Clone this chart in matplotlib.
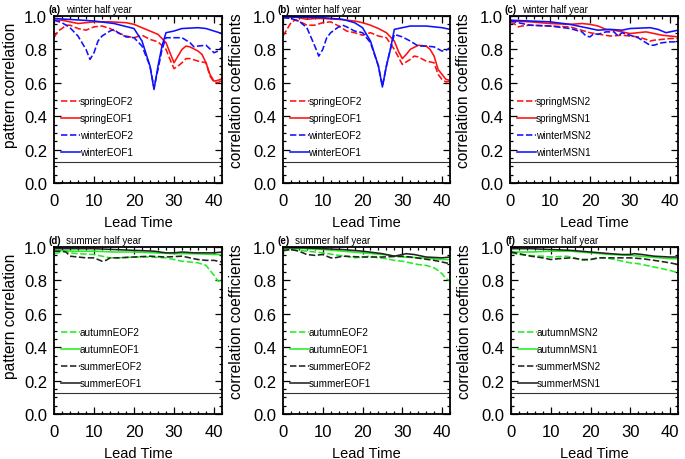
import matplotlib
matplotlib.use('Agg')
import matplotlib.pyplot as plt
from matplotlib.ticker import MultipleLocator, FormatStrFormatter

plt.rcParams['font.family'] = ['Liberation Sans', 'DejaVu Sans']

RED, BLUE, GREEN, BLACK = '#ff1010', '#1010ff', '#22ee22', '#222222'
SIG_LEVEL = 0.124

# ---------------- panel (a) ----------------
a_wEOF1_x = [0, 7, 10, 15, 20, 22, 24, 25, 26, 27, 28, 30, 32, 36, 38, 40, 42]
a_wEOF1_y = [0.985, 0.975, 0.97, 0.955, 0.925, 0.85, 0.70, 0.56, 0.70, 0.82, 0.90, 0.91, 0.925, 0.93, 0.925, 0.91, 0.895]
a_wEOF2_x = [0, 2, 4, 6, 8, 9, 10, 11, 12, 14, 15, 16, 18, 20, 22, 24, 25, 26, 27, 28, 30, 32, 34, 35, 36, 38, 40, 41, 42]
a_wEOF2_y = [0.975, 0.96, 0.93, 0.88, 0.80, 0.74, 0.78, 0.85, 0.88, 0.91, 0.92, 0.90, 0.875, 0.87, 0.82, 0.70, 0.57, 0.68, 0.80, 0.87, 0.87, 0.87, 0.84, 0.815, 0.82, 0.825, 0.78, 0.79, 0.815]
a_sEOF1_x = [0, 2, 4, 6, 8, 10, 14, 18, 20, 22, 24, 26, 28, 29, 30, 31, 32, 33, 34, 36, 37, 38, 39, 40, 41, 42]
a_sEOF1_y = [0.975, 0.975, 0.965, 0.955, 0.96, 0.965, 0.965, 0.96, 0.95, 0.93, 0.91, 0.89, 0.84, 0.78, 0.72, 0.76, 0.80, 0.82, 0.815, 0.79, 0.77, 0.72, 0.65, 0.61, 0.615, 0.625]
a_sEOF2_x = [0, 1, 2, 3, 4, 6, 8, 10, 12, 14, 16, 18, 20, 22, 24, 26, 28, 29, 30, 31, 32, 33, 34, 36, 38, 39, 40, 41, 42]
a_sEOF2_y = [0.87, 0.91, 0.925, 0.945, 0.945, 0.925, 0.915, 0.935, 0.94, 0.925, 0.90, 0.88, 0.87, 0.885, 0.86, 0.845, 0.80, 0.74, 0.685, 0.70, 0.72, 0.745, 0.745, 0.73, 0.72, 0.64, 0.605, 0.60, 0.615]

# ---------------- panel (b) ----------------
b_wEOF1_x = [0, 10, 15, 18, 20, 22, 24, 25, 26, 27, 28, 30, 32, 36, 40, 42]
b_wEOF1_y = [0.995, 0.99, 0.98, 0.96, 0.93, 0.85, 0.70, 0.575, 0.70, 0.80, 0.92, 0.93, 0.94, 0.94, 0.93, 0.92]
b_wEOF2_x = [0, 2, 4, 6, 8, 9, 10, 11, 12, 14, 15, 16, 18, 20, 22, 24, 25, 26, 27, 28, 30, 32, 34, 36, 38, 40, 41, 42]
b_wEOF2_y = [0.99, 0.985, 0.97, 0.93, 0.82, 0.76, 0.80, 0.87, 0.90, 0.935, 0.945, 0.935, 0.91, 0.90, 0.84, 0.70, 0.58, 0.70, 0.80, 0.89, 0.875, 0.85, 0.82, 0.82, 0.815, 0.79, 0.795, 0.81]
b_sEOF1_x = [0, 2, 4, 6, 8, 10, 14, 18, 20, 22, 24, 26, 28, 29, 30, 31, 32, 34, 36, 37, 38, 39, 40, 41, 42]
b_sEOF1_y = [0.99, 0.995, 0.99, 0.98, 0.985, 0.985, 0.98, 0.97, 0.96, 0.945, 0.925, 0.90, 0.85, 0.79, 0.745, 0.77, 0.80, 0.825, 0.82, 0.80, 0.76, 0.68, 0.65, 0.62, 0.615]
b_sEOF2_x = [0, 1, 2, 3, 4, 6, 8, 10, 12, 14, 16, 18, 20, 22, 24, 26, 28, 30, 32, 33, 34, 36, 38, 39, 40, 41, 42]
b_sEOF2_y = [0.88, 0.92, 0.96, 0.975, 0.97, 0.945, 0.945, 0.96, 0.965, 0.94, 0.91, 0.90, 0.885, 0.90, 0.88, 0.87, 0.80, 0.71, 0.74, 0.76, 0.755, 0.73, 0.72, 0.65, 0.62, 0.605, 0.61]

# ---------------- panel (c) ----------------
c_wMSN1_x = [0, 5, 10, 15, 20, 22, 25, 28, 30, 35, 37, 39, 40, 42]
c_wMSN1_y = [0.975, 0.97, 0.965, 0.95, 0.925, 0.915, 0.92, 0.915, 0.925, 0.93, 0.92, 0.90, 0.905, 0.915]
c_wMSN2_x = [0, 2, 5, 10, 15, 18, 19, 20, 21, 22, 24, 26, 27, 28, 30, 32, 34, 35, 36, 38, 40, 42]
c_wMSN2_y = [0.97, 0.96, 0.945, 0.94, 0.925, 0.905, 0.88, 0.875, 0.895, 0.89, 0.905, 0.905, 0.88, 0.90, 0.885, 0.87, 0.84, 0.825, 0.825, 0.84, 0.845, 0.845]
c_sMSN1_x = [0, 5, 10, 15, 18, 20, 22, 24, 26, 28, 30, 32, 34, 36, 38, 40, 42]
c_sMSN1_y = [0.97, 0.965, 0.955, 0.95, 0.955, 0.95, 0.94, 0.92, 0.915, 0.905, 0.895, 0.90, 0.905, 0.895, 0.885, 0.88, 0.875]
c_sMSN2_x = [0, 1, 2, 3, 5, 10, 15, 20, 25, 28, 30, 32, 34, 35, 36, 38, 40, 42]
c_sMSN2_y = [0.96, 0.955, 0.935, 0.94, 0.945, 0.94, 0.935, 0.90, 0.88, 0.885, 0.88, 0.875, 0.86, 0.85, 0.855, 0.86, 0.865, 0.865]

# ---------------- panel (d) ----------------
d_suEOF1_x = [0, 5, 10, 15, 20, 25, 28, 30, 32, 35, 40, 42]
d_suEOF1_y = [0.99, 0.99, 0.99, 0.985, 0.98, 0.975, 0.965, 0.965, 0.97, 0.965, 0.965, 0.97]
d_suEOF2_x = [0, 2, 3, 4, 6, 8, 10, 12, 13, 14, 16, 20, 24, 28, 32, 34, 36, 38, 40, 42]
d_suEOF2_y = [0.975, 0.975, 0.97, 0.945, 0.94, 0.935, 0.935, 0.915, 0.92, 0.935, 0.935, 0.94, 0.945, 0.94, 0.945, 0.935, 0.925, 0.92, 0.92, 0.91]
d_auEOF1_x = [0, 5, 10, 15, 20, 25, 30, 35, 40, 42]
d_auEOF1_y = [0.98, 0.975, 0.975, 0.97, 0.97, 0.965, 0.96, 0.96, 0.955, 0.955]
d_auEOF2_x = [0, 2, 3, 4, 6, 10, 14, 16, 20, 24, 28, 30, 32, 34, 36, 38, 39, 40, 41, 42]
d_auEOF2_y = [0.96, 0.97, 0.975, 0.965, 0.96, 0.955, 0.935, 0.935, 0.94, 0.94, 0.935, 0.925, 0.915, 0.91, 0.905, 0.89, 0.86, 0.83, 0.795, 0.80]

# ---------------- panel (e) ----------------
e_suEOF1_x = [0, 5, 10, 15, 20, 25, 28, 30, 31, 33, 36, 40, 42]
e_suEOF1_y = [0.995, 0.995, 0.99, 0.985, 0.975, 0.96, 0.945, 0.955, 0.96, 0.955, 0.94, 0.935, 0.94]
e_suEOF2_x = [0, 2, 4, 6, 8, 10, 12, 13, 15, 20, 25, 30, 32, 35, 38, 40, 42]
e_suEOF2_y = [0.98, 0.985, 0.975, 0.955, 0.95, 0.955, 0.935, 0.935, 0.945, 0.94, 0.94, 0.945, 0.94, 0.93, 0.92, 0.91, 0.90]
e_auEOF1_x = [0, 5, 10, 15, 20, 25, 30, 35, 40, 42]
e_auEOF1_y = [0.995, 0.99, 0.985, 0.975, 0.965, 0.955, 0.94, 0.935, 0.925, 0.925]
e_auEOF2_x = [0, 2, 4, 6, 10, 14, 16, 18, 20, 22, 24, 26, 28, 30, 32, 34, 36, 38, 39, 40, 41, 42]
e_auEOF2_y = [0.975, 0.985, 0.98, 0.975, 0.965, 0.95, 0.945, 0.935, 0.94, 0.945, 0.935, 0.93, 0.92, 0.915, 0.905, 0.895, 0.89, 0.875, 0.86, 0.84, 0.81, 0.80]

# ---------------- panel (f) ----------------
f_suMSN1_x = [0, 5, 10, 15, 20, 25, 28, 30, 31, 33, 36, 40, 42]
f_suMSN1_y = [0.99, 0.99, 0.985, 0.98, 0.97, 0.96, 0.955, 0.955, 0.96, 0.955, 0.945, 0.94, 0.94]
f_suMSN2_x = [0, 3, 5, 8, 10, 12, 15, 18, 20, 22, 25, 30, 33, 36, 40, 42]
f_suMSN2_y = [0.97, 0.955, 0.945, 0.935, 0.925, 0.93, 0.935, 0.925, 0.925, 0.935, 0.935, 0.935, 0.93, 0.92, 0.905, 0.895]
f_auMSN1_x = [0, 5, 10, 15, 20, 25, 30, 35, 40, 42]
f_auMSN1_y = [0.97, 0.97, 0.975, 0.975, 0.965, 0.955, 0.95, 0.94, 0.93, 0.93]
f_auMSN2_x = [0, 2, 4, 8, 10, 14, 16, 18, 20, 22, 24, 26, 28, 30, 32, 34, 36, 38, 40, 42]
f_auMSN2_y = [0.965, 0.955, 0.95, 0.945, 0.94, 0.945, 0.935, 0.92, 0.925, 0.935, 0.935, 0.925, 0.915, 0.905, 0.90, 0.89, 0.88, 0.87, 0.86, 0.845]

panels = [
    ('(a)', 'winter half year', 'pattern correlation', [
        ('springEOF2', RED, '--', a_sEOF2_x, a_sEOF2_y),
        ('springEOF1', RED, '-', a_sEOF1_x, a_sEOF1_y),
        ('winterEOF2', BLUE, '--', a_wEOF2_x, a_wEOF2_y),
        ('winterEOF1', BLUE, '-', a_wEOF1_x, a_wEOF1_y)]),
    ('(b)', 'winter half year', 'correlation coefficients', [
        ('springEOF2', RED, '--', b_sEOF2_x, b_sEOF2_y),
        ('springEOF1', RED, '-', b_sEOF1_x, b_sEOF1_y),
        ('winterEOF2', BLUE, '--', b_wEOF2_x, b_wEOF2_y),
        ('winterEOF1', BLUE, '-', b_wEOF1_x, b_wEOF1_y)]),
    ('(c)', 'winter half year', 'correlation coefficients', [
        ('springMSN2', RED, '--', c_sMSN2_x, c_sMSN2_y),
        ('springMSN1', RED, '-', c_sMSN1_x, c_sMSN1_y),
        ('winterMSN2', BLUE, '--', c_wMSN2_x, c_wMSN2_y),
        ('winterMSN1', BLUE, '-', c_wMSN1_x, c_wMSN1_y)]),
    ('(d)', 'summer half year', 'pattern correlation', [
        ('autumnEOF2', GREEN, '--', d_auEOF2_x, d_auEOF2_y),
        ('autumnEOF1', GREEN, '-', d_auEOF1_x, d_auEOF1_y),
        ('summerEOF2', BLACK, '--', d_suEOF2_x, d_suEOF2_y),
        ('summerEOF1', BLACK, '-', d_suEOF1_x, d_suEOF1_y)]),
    ('(e)', 'summer half year', 'correlation coefficients', [
        ('autumnEOF2', GREEN, '--', e_auEOF2_x, e_auEOF2_y),
        ('autumnEOF1', GREEN, '-', e_auEOF1_x, e_auEOF1_y),
        ('summerEOF2', BLACK, '--', e_suEOF2_x, e_suEOF2_y),
        ('summerEOF1', BLACK, '-', e_suEOF1_x, e_suEOF1_y)]),
    ('(f)', 'summer half year', 'correlation coefficients', [
        ('autumnMSN2', GREEN, '--', f_auMSN2_x, f_auMSN2_y),
        ('autumnMSN1', GREEN, '-', f_auMSN1_x, f_auMSN1_y),
        ('summerMSN2', BLACK, '--', f_suMSN2_x, f_suMSN2_y),
        ('summerMSN1', BLACK, '-', f_suMSN1_x, f_suMSN1_y)]),
]

# axes positions in pixels (left, top, width, height)
W, H = 685, 460
boxes = [(54, 17, 168, 167), (283, 17, 167, 167), (510, 17, 168, 167),
         (54, 248, 168, 167), (283, 248, 167, 167), (511, 248, 167, 167)]

fig = plt.figure(figsize=(W / 100, H / 100), dpi=100)
for (letter, season, ylab, series), (l, t, w, h) in zip(panels, boxes):
    ax = fig.add_axes([l / W, 1 - (t + h) / H, w / W, h / H])
    for lab, col, ls, xs, ys in series:
        ax.plot(xs, ys, color=col, ls=ls, lw=1.15, label=lab,
                dashes=(4, 1.6) if ls == '--' else (None, None))
    ax.axhline(SIG_LEVEL, color='#333333', lw=0.8)
    ax.set_xlim(0, 42)
    ax.set_ylim(0, 1.0)
    ax.xaxis.set_major_locator(MultipleLocator(10))
    ax.xaxis.set_minor_locator(MultipleLocator(2))
    ax.yaxis.set_major_locator(MultipleLocator(0.2))
    ax.yaxis.set_minor_locator(MultipleLocator(0.05))
    ax.yaxis.set_major_formatter(FormatStrFormatter('%.1f'))
    ax.tick_params(which='both', direction='in', top=True, right=True, labelsize=12, width=0.9)
    ax.tick_params(axis='x', which='major', length=5, pad=7)
    ax.tick_params(axis='y', which='major', length=5, pad=5)
    ax.tick_params(which='minor', length=2.5)
    for s in ax.spines.values():
        s.set_linewidth(1.3)
    ax.set_xlabel('Lead Time', fontsize=10.5, labelpad=5)
    ax.set_ylabel(ylab, fontsize=11.2)
    is_pattern = ylab.startswith('pattern')
    ax.yaxis.set_label_coords(-0.215 if is_pattern else -0.232,
                              0.59 if is_pattern else 0.56)
    ax.text(-0.03, 1.012, letter, transform=ax.transAxes, fontsize=7, fontweight='bold',
            ha='left', va='bottom')
    ax.text(0.07, 1.012, season, transform=ax.transAxes, fontsize=7,
            ha='left', va='bottom')
    ax.legend(loc='upper left', bbox_to_anchor=(0.042, 0.52), frameon=False, fontsize=7.2,
              handlelength=1.85, handletextpad=0.0, labelspacing=0.7, borderpad=0,
              borderaxespad=0)

fig.savefig('out.png', dpi=100)
